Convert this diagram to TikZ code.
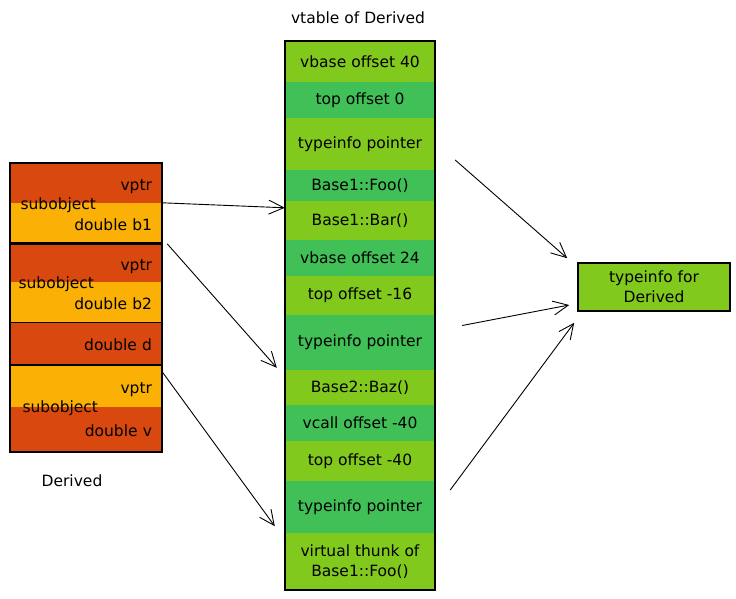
\documentclass[tikz,border=0pt]{standalone}
\usepackage{fontspec}
\setmainfont{DejaVu Sans}
\usepackage{tikz}
\usetikzlibrary{arrows.meta}

\definecolor{redor}{HTML}{D9480F}
\definecolor{ambr}{HTML}{FAB005}
\definecolor{lgreen}{HTML}{82C91E}
\definecolor{dgreen}{HTML}{40C057}

\begin{document}
\begin{tikzpicture}[x=1pt,y=-1pt,
  font=\fontsize{15.5}{20}\selectfont,
  slot/.style={inner xsep=10pt,inner ysep=0pt,minimum width=152pt,text width=132pt,
    align=right,text height=14pt,text depth=0pt},
  row/.style={inner sep=0pt,minimum width=150pt,align=center},
  frame/.style={draw=black,line width=1.6pt},
  ptr/.style={draw=black,line width=0.9pt,-{Straight Barb[length=15pt,width=14pt,line width=0.9pt]}}]
\useasboundingbox (0,0) rectangle (736,599);

% object layout of Derived
\node[slot,fill=redor,minimum height=40pt] (b1vptr) at (86,183) {vptr};
\node[slot,fill=ambr,minimum height=40pt] (b1d) at (86,223) {double b1};
\node[slot,fill=redor,minimum height=38pt] (b2vptr) at (86,263) {vptr};
\node[slot,fill=ambr,minimum height=40pt] (b2d) at (86,302) {double b2};
\node[slot,fill=redor,minimum height=43pt] (dd) at (86,343.5) {double d};
\node[slot,fill=ambr,minimum height=42pt] (vvptr) at (86,386) {vptr};
\node[slot,fill=redor,minimum height=45pt] (vd) at (86,429.5) {double v};
\node[anchor=west] (sub1) at (17,205) {subobject};
\node[anchor=west] (sub2) at (15,284) {subobject};
\node[anchor=west] (sub3) at (19,408) {subobject};
\draw[thin] (b2vptr.north west) rectangle (b2d.south east);
\draw[thin] (dd.north west) rectangle (dd.south east);
\draw[frame] (b1vptr.north west) rectangle (b1d.south east);
\draw[frame] (vvptr.north west) rectangle (vd.south east);
\draw[frame] (b1vptr.north west) rectangle (vd.south east);
\node (derived) at (72,481) {Derived};

% vtable
\node (title) at (358,18) {vtable of Derived};
\node[row,fill=lgreen,minimum height=41pt] (vb40) at (360,61.5) {vbase offset 40};
\node[row,fill=dgreen,minimum height=36pt] (top0) at (360,100) {top offset 0};
\node[row,fill=lgreen,minimum height=52pt] (tp1) at (360,144) {typeinfo pointer};
\node[row,fill=dgreen,minimum height=31pt] (foo) at (360,185.5) {Base1::Foo()};
\node[row,fill=lgreen,minimum height=39pt] (bar) at (360,220.5) {Base1::Bar()};
\node[row,fill=dgreen,minimum height=36pt] (vb24) at (360,258) {vbase offset 24};
\node[row,fill=lgreen,minimum height=39pt] (top16) at (360,295.5) {top offset -16};
\node[row,fill=dgreen,minimum height=55pt] (tp2) at (360,342.5) {typeinfo pointer};
\node[row,fill=lgreen,minimum height=35pt] (baz) at (360,387.5) {Base2::Baz()};
\node[row,fill=dgreen,minimum height=36pt] (vc40) at (360,423) {vcall offset -40};
\node[row,fill=lgreen,minimum height=40pt] (top40) at (360,461) {top offset -40};
\node[row,fill=dgreen,minimum height=52pt] (tp3) at (360,507) {typeinfo pointer};
\node[row,fill=lgreen,minimum height=57pt] (thunk) at (360,561.5) {virtual thunk of\\Base1::Foo()};
\draw[frame] (vb40.north west) rectangle (thunk.south east);

% typeinfo
\node[row,fill=lgreen,draw=black,line width=1.6pt,minimum width=152pt,minimum height=48pt] (tid) at (654,287) {typeinfo for\\Derived};

% pointers
\draw[ptr] (b1d.north east) -- ([yshift=-7pt]bar.north west);
\draw[ptr] ([xshift=5pt]b2vptr.north east) -- ([xshift=-8pt,yshift=2pt]baz.north west);
\draw[ptr] ([yshift=-7pt]vvptr.north east) -- ([xshift=-10pt,yshift=7pt]tp3.south west);
\draw[ptr] ([xshift=20pt,yshift=-16pt]tp1.east) -- ([xshift=-10pt,yshift=4pt]tid.north west);
\draw[ptr] ([xshift=27pt,yshift=17pt]tp2.east) -- ([xshift=-8pt,yshift=-18pt]tid.west);
\draw[ptr] ([xshift=15pt,yshift=17pt]tp3.east) -- ([xshift=-3pt,yshift=-11pt]tid.south west);
\end{tikzpicture}
\end{document}
